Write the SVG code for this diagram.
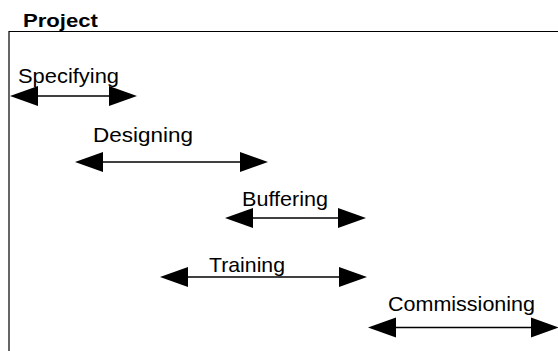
<svg xmlns="http://www.w3.org/2000/svg" width="558" height="351" viewBox="0 0 558 351">
<style>
  .lbl { font-family: "Liberation Sans", Arial, sans-serif; font-size: 21px; fill: #000; }
  .title { font-family: "Liberation Sans", Arial, sans-serif; font-size: 19px; font-weight: bold; fill: #000; }
  .bar { stroke: #000; stroke-width: 1.4; fill: none; marker-start: url(#head); marker-end: url(#head); }
  .frame { stroke: #000; stroke-width: 1.2; fill: none; }
</style>
<defs>
  <marker id="head" markerUnits="userSpaceOnUse" markerWidth="29" markerHeight="21" refX="0" refY="10" orient="auto-start-reverse" viewBox="0 0 29 21" overflow="visible">
    <path d="M0,0 L28,10 L0,20 Z" fill="#000"/>
  </marker>
</defs>
<rect width="558" height="351" fill="#fff"/>
<g id="project">
  <path class="frame" d="M9,351 V31.5 H558"/>
  <text class="title" x="23" y="27" textLength="75" lengthAdjust="spacingAndGlyphs">Project</text>
</g>
<g id="specifying">
  <text class="lbl" x="18" y="83" textLength="101" lengthAdjust="spacingAndGlyphs">Specifying</text>
</g>
<g id="designing">
  <text class="lbl" x="93" y="142" textLength="100" lengthAdjust="spacingAndGlyphs">Designing</text>
</g>
<g id="buffering">
  <text class="lbl" x="242" y="206" textLength="86" lengthAdjust="spacingAndGlyphs">Buffering</text>
</g>
<g id="training">
  <text class="lbl" x="209" y="272" textLength="76" lengthAdjust="spacingAndGlyphs">Training</text>
</g>
<g id="commissioning">
  <text class="lbl" x="388" y="311" textLength="147" lengthAdjust="spacingAndGlyphs">Commissioning</text>
</g>
<g id="connectors">
  <line class="bar" x1="38" y1="96" x2="109" y2="96"/>
  <line class="bar" x1="103" y1="162" x2="240" y2="162"/>
  <line class="bar" x1="253" y1="218" x2="338" y2="218"/>
  <line class="bar" x1="188" y1="277" x2="339" y2="277"/>
  <line class="bar" x1="396" y1="327.5" x2="531" y2="327.5"/>
</g>
</svg>
